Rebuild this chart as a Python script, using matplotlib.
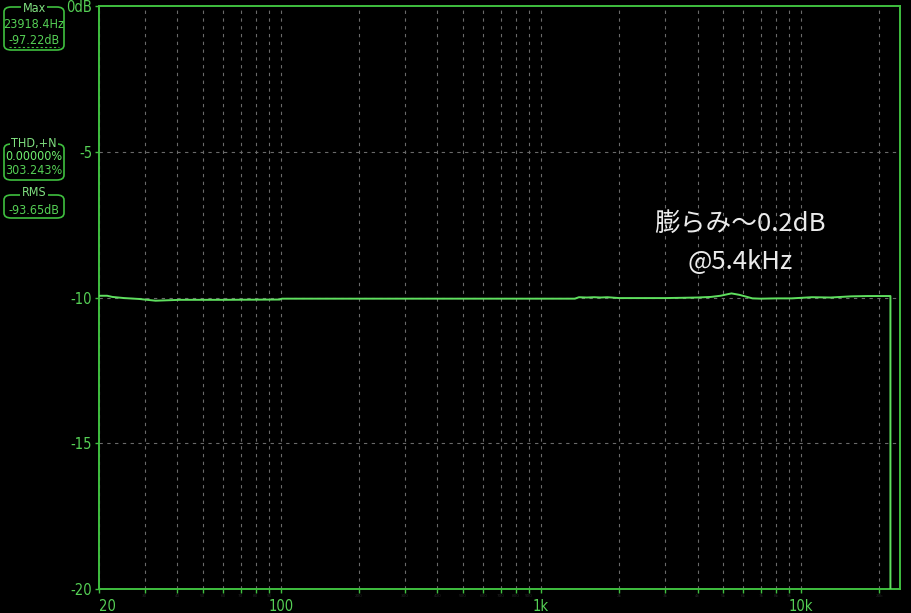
import matplotlib
matplotlib.use("Agg")
import matplotlib.pyplot as plt
from matplotlib.patches import FancyBboxPatch
from matplotlib.lines import Line2D
from matplotlib import font_manager as fm

# ---- data ----
freqs = [20, 21.5, 22.5, 25, 28.5, 33, 41, 60, 99, 101, 200, 500, 1000, 1350, 1400,
         1500, 1600, 1700, 1800, 2000, 2500, 3000, 3500, 4000, 4500, 4900, 5200, 5400,
         5800, 6200, 6500, 7000, 8000, 9200, 11000, 13000, 15600, 18000, 21300, 22050, 22050]
levels = [-9.94, -9.94, -9.98, -10.02, -10.05, -10.11, -10.08, -10.08, -10.07, -10.04,
          -10.04, -10.04, -10.04, -10.04, -9.99, -10.00, -9.99, -10.00, -9.99, -10.02,
          -10.02, -10.02, -10.01, -10.00, -9.98, -9.94, -9.89, -9.86, -9.91, -9.98,
          -10.03, -10.04, -10.03, -10.03, -9.99, -10.00, -9.96, -9.95, -9.95, -9.95, -100]

x_major = [20, 100, 1000, 10000]
x_major_labels = ["20", "100", "1k", "10k"]
x_minor = [30, 40, 50, 60, 70, 80, 90, 200, 300, 400, 500, 600, 700, 800, 900,
           2000, 3000, 4000, 5000, 6000, 7000, 8000, 9000, 20000]
x_minor_labels = ["30", "40", "50", "60", "70", "80", "90", "200", "300", "400", "500",
                  "600", "700", "800", "900", "2k", "3k", "4k", "5k", "6k", "7k", "8k",
                  "9k", "20k"]
y_ticks = [0, -5, -10, -15, -20]
y_tick_labels = ["0dB", "-5", "-10", "-15", "-20"]

annotation_lines = ["膨らみ～0.2dB", "@5.4kHz"]
box_max = ("Max", ["23918.4Hz", "-97.22dB"])
box_thd = ("THD,+N", ["0.00000%", "303.243%"])
box_rms = ("RMS", ["-93.65dB"])

# ---- style ----
W, H = 911, 613
GREEN = "#3fbf3f"
TXT = "#55d055"
LINE = "#5fe05f"
GRID = "#6a6a6a"
FAM = ["DejaVu Sans", "DejaVu Sans Mono"]


def narrow_fp(size):
    return fm.FontProperties(family=FAM, stretch="condensed", size=size)


fig = plt.figure(figsize=(W / 100, H / 100), dpi=100, facecolor="black")
L, R, T, B = 99, 900, 6, 589
ax = fig.add_axes([L / W, 1 - B / H, (R - L) / W, (B - T) / H], facecolor="black")

ax.set_xscale("log")
ax.set_xlim(20, 24000)
ax.set_ylim(-20, 0)

for f in x_major + x_minor:
    ax.axvline(f, color=GRID, lw=0.8, ls=(0, (3, 4)), zorder=1)
for y in [-5, -10, -15]:
    ax.axhline(y, color=GRID, lw=0.8, ls=(0, (3, 4)), zorder=1)

ax.plot(freqs, levels, color=LINE, lw=1.4, zorder=3, clip_on=True)

for s in ax.spines.values():
    s.set_color(GREEN)
    s.set_linewidth(1.4)

ax.set_xticks(x_major)
ax.set_xticklabels(x_major_labels)
ax.set_xticks(x_minor, minor=True)
ax.set_xticklabels(x_minor_labels, minor=True)
ax.set_yticks(y_ticks)
ax.set_yticklabels(y_tick_labels)
ax.tick_params(axis="both", which="major", direction="out", length=3, width=1,
               color=GREEN, labelcolor=TXT, pad=2)
ax.tick_params(axis="x", which="major", pad=4)
ax.tick_params(axis="x", which="minor", direction="out", length=3, width=1,
               color=GREEN, labelcolor="#262626", labelsize=3, pad=0.5)
for lab in ax.get_xticklabels() + ax.get_yticklabels():
    lab.set_fontproperties(narrow_fp(10.5))
ax.get_xticklabels()[0].set_horizontalalignment("left")

for txt, yy in zip(annotation_lines, [224, 262]):
    fig.text(740 / W, 1 - yy / H, txt, ha="center", va="center",
             fontsize=18.5, color="#ebebeb", family=["Noto Sans CJK JP", "DejaVu Sans"],
             zorder=5)


def fx(px):
    return px / W


def fy(py):
    return 1 - py / H


def draw_box(x0, x1, y0, y1, title, title_y, lines, line_ys, colors, underline=None):
    p = FancyBboxPatch((fx(x0), fy(y1)), fx(x1) - fx(x0), fy(y0) - fy(y1),
                       boxstyle="round,pad=0,rounding_size=0.008",
                       transform=fig.transFigure, fill=False, edgecolor=GREEN, lw=1.2)
    fig.add_artist(p)
    fig.text(fx((x0 + x1) / 2), fy(title_y), title, ha="center", va="center",
             color="#80e080", fontproperties=narrow_fp(9),
             bbox=dict(facecolor="black", edgecolor="none", pad=1))
    for t, yy, c in zip(lines, line_ys, colors):
        fig.text(fx((x0 + x1) / 2), fy(yy), t, ha="center", va="center",
                 color=c, fontproperties=narrow_fp(9))
    if underline is not None:
        fig.add_artist(Line2D([fx(x0 + 5), fx(x1 - 5)], [fy(underline), fy(underline)],
                              transform=fig.transFigure, color=GREEN, lw=0.8,
                              ls=(0, (2, 2))))


draw_box(4, 64, 7, 50, box_max[0], 8, box_max[1], [25, 40], [TXT, TXT], underline=47)
draw_box(4, 64, 144, 180, box_thd[0], 144, box_thd[1], [157, 171], ["#70f070", TXT])
draw_box(4, 64, 195, 218, box_rms[0], 193, box_rms[1], [211], [TXT])

fig.savefig("out.png", dpi=100, facecolor="black")
